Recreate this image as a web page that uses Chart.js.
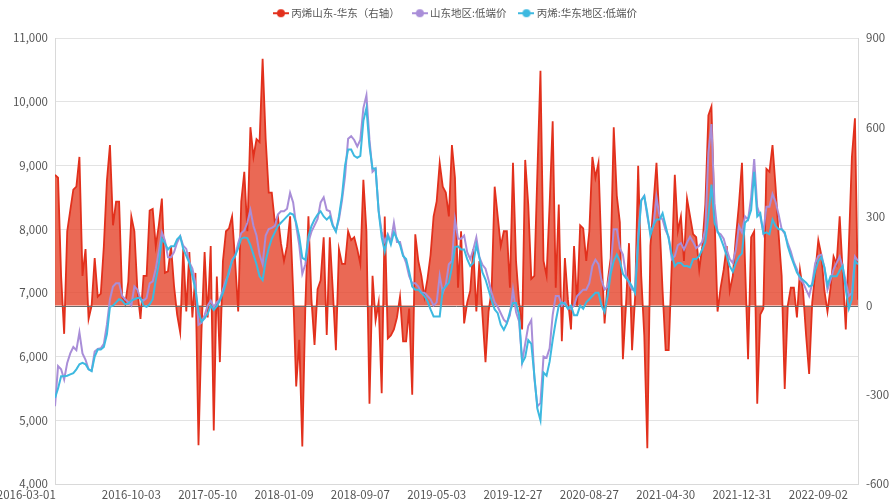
<!DOCTYPE html>
<html>
<head>
<meta charset="utf-8">
<script src="https://cdn.jsdelivr.net/npm/chart.js@4/dist/chart.umd.min.js"></script>
<style>
  html, body { margin: 0; padding: 0; background: #ffffff; }
  #wrap { width: 891px; height: 503px; position: relative; }
</style>
</head>
<body>
<div id="wrap"><canvas id="c" width="891" height="503"></canvas></div>
<script>
// Tick labels shown on the x axis (every 25th observation)
const tickLabels = ['2016-03-01','2016-10-03','2017-05-10','2018-01-09','2018-09-07','2019-05-03','2019-12-27','2020-08-27','2021-04-30','2021-12-31','2022-09-02'];
const tickEvery = 25;

const seriesNames = ['丙烯山东-华东（右轴）', '山东地区:低端价', '丙烯:华东地区:低端价'];
const seriesColors = ['#e2301c', '#a98ed8', '#3db9e0'];

// 丙烯山东-华东 spread (right axis)
const spread = [
  440,430,100,-95,250,320,390,400,500,100,
  190,-45,0,160,30,40,200,420,540,270,
  350,350,30,5,80,300,250,50,-45,100,
  100,320,325,200,270,360,110,115,200,65,
  -30,-90,190,-20,180,-40,110,-470,-80,180,
  -40,200,-420,98,-190,150,250,260,300,150,
  -20,350,450,250,600,500,560,550,830,560,
  380,380,280,300,210,150,200,300,50,-272,
  -115,-474,0,300,20,-132,55,85,230,-99,
  230,50,-150,190,140,140,250,220,230,190,
  140,423,250,-330,100,-50,10,-295,300,-110,
  -100,-80,-40,30,-120,-120,-10,-300,240,150,
  100,30,90,170,300,350,480,400,380,300,
  540,430,60,250,-60,10,50,190,-20,150,
  -30,-190,-20,50,400,300,200,250,250,60,
  480,150,10,-80,490,340,90,100,450,790,
  150,100,340,620,60,340,-120,160,20,-80,
  200,0,270,260,150,250,500,430,480,170,
  -60,80,160,600,370,280,-180,0,210,-150,
  30,470,100,-100,-480,200,340,480,280,50,
  -150,-150,140,440,250,300,150,360,300,240,
  230,120,200,340,640,670,300,-20,60,120,
  200,50,100,230,340,480,140,-180,230,250,
  -330,-30,-10,460,450,540,400,240,100,-280,
  0,60,60,-40,120,50,-100,-230,10,110,
  220,170,50,-20,60,165,140,300,110,-80,
  200,500,630,20
];

// 山东地区:低端价
const shandong = [
  5220,5850,5800,5640,5900,6050,6150,6100,6380,6050,
  5950,5800,5780,6080,6120,6130,6200,6500,6900,7100,
  7150,7150,6950,6900,6850,6800,7100,7050,6900,6880,
  6920,7150,7180,7380,7650,7950,7820,7560,7560,7640,
  7790,7890,7740,7690,7480,7380,7150,6500,6530,6650,
  6800,6880,6780,6850,6900,7050,7200,7300,7520,7580,
  7780,7940,7980,8100,8300,8050,7900,7600,7450,7900,
  8000,8020,8050,8230,8280,8280,8320,8570,8420,8050,
  7750,7300,7450,7800,7960,8060,8160,8420,8500,8300,
  8280,8060,7980,8150,8450,8830,9420,9460,9400,9300,
  9400,9900,10100,9400,8900,8950,8290,7950,7800,7920,
  7800,8100,7800,7800,7600,7470,7260,7150,7150,7100,
  7000,7000,6950,6900,6800,6850,7270,7000,7130,7450,
  7500,8150,7850,7850,7900,7640,7530,7680,7870,7560,
  7440,7380,7200,7000,6850,6780,6680,6580,6530,6650,
  7050,6700,6550,5920,6200,6480,6570,5660,5220,5270,
  6000,5980,6130,6650,6950,6950,6800,6850,6760,6750,
  6800,6950,7000,7050,7050,7150,7420,7520,7450,7200,
  7050,7100,7400,8000,8000,7700,7600,7280,7150,7050,
  7050,7900,8450,8520,8200,7950,8050,8500,8200,8150,
  7980,7880,7530,7580,7750,7780,7680,7790,7880,7800,
  7700,7740,7800,8000,9200,9650,8400,7950,7920,7850,
  7680,7530,7470,7680,8050,7950,8200,8150,8500,9100,
  8350,8200,7950,8350,8350,8550,8430,8230,8000,7930,
  7780,7650,7480,7370,7210,7160,7050,6950,7150,7470,
  7580,7600,7400,7050,7200,7370,7470,7570,7400,7180,
  6950,7000,7570,7500
];

// 丙烯:华东地区:低端价
const huadong = [
  5350,5500,5690,5690,5700,5720,5740,5800,5880,5900,
  5880,5800,5770,6000,6110,6110,6150,6350,6780,6800,
  6850,6900,6880,6820,6830,6880,6900,6920,6920,6800,
  6780,6820,6900,7200,7450,7850,7780,7680,7730,7730,
  7840,7890,7690,7580,7470,7260,7050,6700,6550,6600,
  6670,6800,6730,6790,6880,7000,7150,7350,7500,7580,
  7700,7850,7870,7860,7750,7600,7450,7260,7200,7500,
  7700,7850,7950,8050,8100,8150,8200,8250,8230,8100,
  7880,7550,7520,7880,8050,8150,8230,8280,8200,8150,
  8200,8050,7960,8200,8520,9000,9250,9250,9150,9120,
  9150,9700,9900,9300,8950,8950,8280,7870,7650,7900,
  7760,7950,7850,7750,7580,7530,7330,7100,7050,7050,
  7000,6950,6870,6740,6630,6630,6630,7050,7100,7160,
  7400,7720,7730,7680,7680,7530,7420,7470,7750,7550,
  7320,7210,7050,6880,6740,6680,6500,6420,6520,6700,
  6840,6840,6650,5900,5990,6260,6200,5700,5180,5000,
  5750,5700,5920,6260,6550,6800,6850,6830,6750,6800,
  6650,6650,6800,6750,6850,6900,6950,7000,7000,6800,
  6700,6950,7300,7500,7600,7500,7300,7230,7180,7100,
  7000,7800,8450,8520,8250,7900,8060,8150,8150,8250,
  8050,7850,7600,7420,7470,7470,7420,7420,7400,7530,
  7530,7580,7680,7800,8200,8700,8100,7970,7860,7730,
  7580,7420,7330,7470,7570,7620,8100,8150,8300,8900,
  8200,8250,7930,7950,7920,8150,8050,8000,8000,7950,
  7730,7580,7450,7320,7250,7200,7160,7100,7120,7350,
  7500,7560,7400,7120,7260,7260,7260,7350,7420,7050,
  6750,6900,7500,7450
];

const toXY = arr => arr.map((v, i) => ({ x: i, y: v }));
const lastIndex = spread.length - 1;
const tickValues = tickLabels.map((_, k) => k * tickEvery);

const FONT = "'Noto Sans CJK SC', 'Liberation Sans', sans-serif";

// legend marker: short line with a dot (line-series style)
function legendMarker(color) {
  const cv = document.createElement('canvas');
  cv.width = 16; cv.height = 10;
  const g = cv.getContext('2d');
  g.strokeStyle = color; g.lineWidth = 2;
  g.beginPath(); g.moveTo(0, 5); g.lineTo(16, 5); g.stroke();
  g.fillStyle = color;
  g.beginPath(); g.arc(8, 5, 4, 0, Math.PI * 2); g.fill();
  return cv;
}

// draws the right-axis zero line over the filled area
const zeroLine = {
  id: 'zeroLine',
  afterDatasetDraw(chart, args) {
    if (args.index !== 0) return;
    const s = chart.scales.y1, a = chart.chartArea, ctx = chart.ctx;
    const y = Math.round(s.getPixelForValue(0)) + 0.5;
    ctx.save();
    ctx.strokeStyle = '#6b6b6b';
    ctx.lineWidth = 1;
    ctx.beginPath();
    ctx.moveTo(a.left, y);
    ctx.lineTo(a.right, y);
    ctx.stroke();
    ctx.restore();
  }
};

const legendPlace = {
  id: 'legendPlace',
  beforeInit(chart) {
    const f = chart.legend.fit;
    chart.legend.fit = function () { f.call(this); this.height = 38; };
  },
  afterLayout(chart) {
    const L = chart.legend;
    L.top -= 7;
    L.left += 11;
    L.right += 11;
  }
};

new Chart(document.getElementById('c'), {
  type: 'line',
  data: {
    datasets: [
      {
        label: seriesNames[0],
        data: toXY(spread),
        yAxisID: 'y1',
        borderColor: seriesColors[0],
        backgroundColor: 'rgba(229,72,48,0.82)',
        fill: { value: 0 },
        borderWidth: 1.8,
        pointRadius: 0,
        pointStyle: legendMarker(seriesColors[0]),
        tension: 0,
        order: 2
      },
      {
        label: seriesNames[1],
        data: toXY(shandong),
        yAxisID: 'y',
        borderColor: seriesColors[1],
        backgroundColor: seriesColors[1],
        fill: false,
        borderWidth: 2,
        pointRadius: 0,
        pointStyle: legendMarker(seriesColors[1]),
        tension: 0,
        order: 1
      },
      {
        label: seriesNames[2],
        data: toXY(huadong),
        yAxisID: 'y',
        borderColor: seriesColors[2],
        backgroundColor: seriesColors[2],
        fill: false,
        borderWidth: 2,
        pointRadius: 0,
        pointStyle: legendMarker(seriesColors[2]),
        tension: 0,
        order: 0
      }
    ]
  },
  options: {
    responsive: false,
    animation: false,
    layout: { padding: { left: 0, right: 0, top: 0, bottom: 0 } },
    plugins: {
      legend: {
        position: 'top',
        labels: {
          usePointStyle: true,
          pointStyleWidth: 10,
          boxWidth: 10,
          boxHeight: 8,
          padding: 15,
          color: '#555',
          font: { family: FONT, size: 10.5 },
          sort: (a, b) => a.datasetIndex - b.datasetIndex
        }
      },
      tooltip: { enabled: false }
    },
    scales: {
      x: {
        type: 'linear',
        min: 0,
        max: lastIndex,
        grid: { display: false, drawTicks: false },
        border: { display: true, color: '#d9d9d9' },
        afterBuildTicks: s => { s.ticks = tickValues.map(v => ({ value: v })); },
        afterFit: s => { s.height = 19; s.paddingLeft = 0; s.paddingRight = 0; },
        ticks: {
          autoSkip: false,
          maxRotation: 0,
          padding: 4,
          color: '#555',
          font: { family: FONT, size: 11.5 },
          callback: v => {
            const k = tickValues.indexOf(v);
            return k === 0 ? tickLabels[k] + '\u2007'.repeat(9) : tickLabels[k];
          }
        }
      },
      y: {
        position: 'left',
        min: 4000,
        max: 11000,
        afterFit: s => { s.width = 55; },
        grid: { color: '#e3e3e3', drawTicks: false },
        border: { display: true, color: '#d9d9d9' },
        ticks: {
          stepSize: 1000,
          padding: 7,
          color: '#555',
          font: { family: FONT, size: 11.5 },
          callback: v => v.toLocaleString('en-US')
        }
      },
      y1: {
        position: 'right',
        min: -600,
        max: 900,
        afterFit: s => { s.width = 33; },
        grid: { drawOnChartArea: false, drawTicks: false },
        border: { display: true, color: '#d9d9d9' },
        ticks: {
          stepSize: 300,
          padding: 8,
          color: '#555',
          font: { family: FONT, size: 11.5 }
        }
      }
    }
  },
  plugins: [legendPlace, zeroLine]
});
</script>
</body>
</html>
